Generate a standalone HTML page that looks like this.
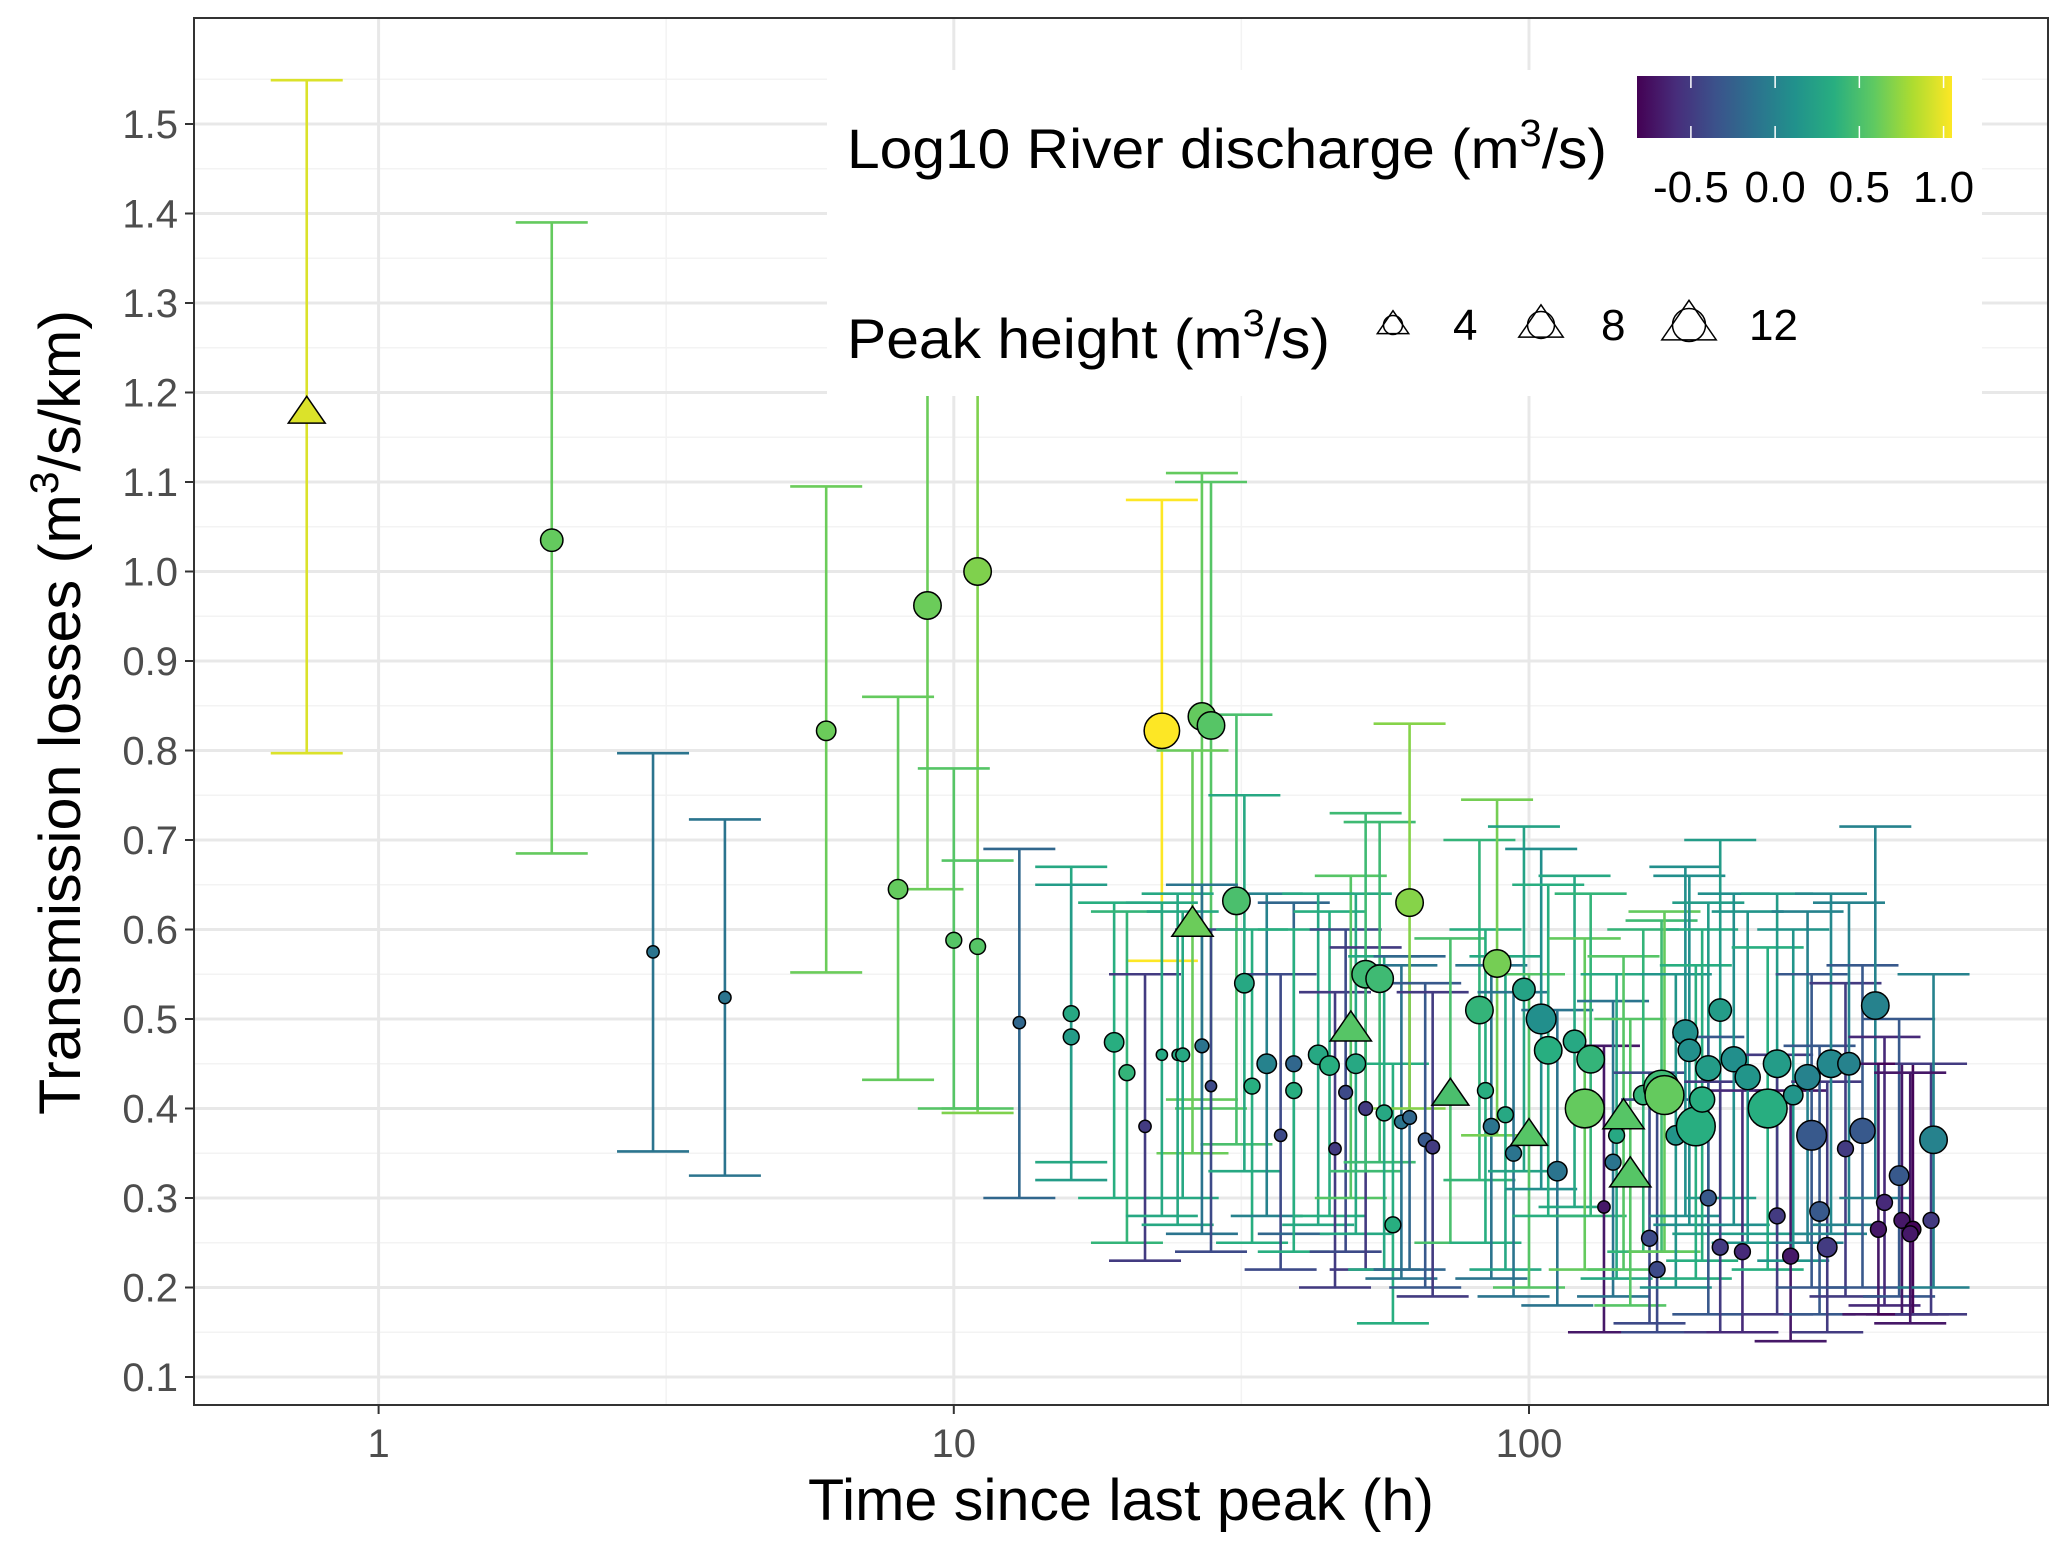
<!DOCTYPE html>
<html><head><meta charset="utf-8"><style>
html,body{margin:0;padding:0;background:#fff;}
svg{display:block;font-family:"Liberation Sans",sans-serif;}
</style></head><body>
<svg id="chart" width="2067" height="1550" viewBox="0 0 2067 1550" xmlns="http://www.w3.org/2000/svg">
<defs>
<linearGradient id="vir" x1="0" x2="1" y1="0" y2="0">
<stop offset="0" stop-color="#440154"/><stop offset="0.125" stop-color="#472d7b"/><stop offset="0.25" stop-color="#3b528b"/><stop offset="0.375" stop-color="#2c728e"/><stop offset="0.5" stop-color="#21918c"/><stop offset="0.625" stop-color="#28ae80"/><stop offset="0.75" stop-color="#5ec962"/><stop offset="0.875" stop-color="#addc30"/><stop offset="1" stop-color="#fde725"/>
</linearGradient>
<clipPath id="pc"><rect x="194" y="18" width="1854" height="1387"/></clipPath>
</defs>
<g id="grid" clip-path="url(#pc)"></g>
<g id="bars" clip-path="url(#pc)"></g>
<g id="pts" clip-path="url(#pc)"></g>
<rect x="194" y="18" width="1854" height="1387" fill="none" stroke="#333" stroke-width="2"/>
<g id="axes"></g>
<text x="808" y="1520" font-size="58" textLength="626" lengthAdjust="spacingAndGlyphs" fill="#000">Time since last peak (h)</text>
<text transform="translate(80,1115) rotate(-90)" font-size="58" textLength="805" lengthAdjust="spacingAndGlyphs" fill="#000">Transmission losses (m<tspan dy="-22" font-size="40">3</tspan><tspan dy="22">/s/km)</tspan></text>
<g id="legend">
<rect x="827" y="70" width="1155" height="326" fill="#fff"/>
<text x="847" y="168" font-size="56" textLength="760" lengthAdjust="spacingAndGlyphs" fill="#000">Log10 River discharge (m<tspan dy="-22" font-size="38">3</tspan><tspan dy="22">/s)</tspan></text>
<rect x="1637" y="76" width="315" height="62" fill="url(#vir)"/>
<g id="cbticks"></g>
<text x="847" y="358" font-size="56" textLength="483" lengthAdjust="spacingAndGlyphs" fill="#000">Peak height (m<tspan dy="-22" font-size="38">3</tspan><tspan dy="22">/s)</tspan></text>
<g id="sizeleg"></g>
</g>
</svg>
<script>
const times=[0.75,2.0,3.0,4.0,6.0,8.0,9.0,11.0,10.0,11.0,23,27,28,26,31,13,16,16,19,20,21.5,23,24.5,25,27,28,32,33,35,37,39,39,43,45,46,48,49,50,52,52,55,56,58,60,62,62,66,68,73,82,84,86,88,91,94,98,100,105,108,112,120,125,128,135,140,142,146,150,158,162,167,170,172,180,187,190,195,200,205,215,205,215,227,235,240,260,270,270,285,288,305,310,320,330,335,355,360,380,400,405,415,440,445,465,500,505,460];
const vals=[1.177,1.035,0.575,0.524,0.822,0.645,0.962,1.0,0.588,0.581,0.822,0.838,0.828,0.605,0.632,0.496,0.506,0.48,0.474,0.44,0.38,0.46,0.46,0.46,0.47,0.425,0.54,0.425,0.45,0.37,0.45,0.42,0.46,0.448,0.355,0.418,0.488,0.45,0.40,0.55,0.545,0.395,0.27,0.385,0.39,0.63,0.365,0.357,0.415,0.51,0.42,0.38,0.562,0.393,0.35,0.533,0.37,0.50,0.465,0.33,0.475,0.40,0.455,0.29,0.34,0.37,0.39,0.325,0.415,0.255,0.22,0.423,0.415,0.37,0.485,0.465,0.38,0.41,0.445,0.51,0.30,0.245,0.455,0.24,0.435,0.40,0.45,0.28,0.235,0.415,0.435,0.37,0.285,0.245,0.45,0.355,0.45,0.375,0.515,0.265,0.295,0.325,0.275,0.265,0.275,0.365,0.26];
const los=[0.797,0.685,0.352,0.325,0.552,0.432,0.645,0.395,0.40,0.40,0.565,0.41,0.40,0.35,0.36,0.30,0.34,0.32,0.30,0.25,0.23,0.28,0.27,0.30,0.26,0.24,0.33,0.25,0.28,0.22,0.26,0.24,0.27,0.28,0.20,0.24,0.30,0.26,0.22,0.33,0.34,0.22,0.16,0.21,0.22,0.40,0.20,0.19,0.25,0.32,0.25,0.21,0.37,0.22,0.19,0.33,0.20,0.31,0.28,0.18,0.29,0.22,0.28,0.15,0.19,0.21,0.22,0.18,0.24,0.16,0.15,0.24,0.24,0.20,0.28,0.27,0.21,0.23,0.26,0.30,0.17,0.15,0.27,0.15,0.25,0.22,0.26,0.17,0.14,0.23,0.25,0.20,0.17,0.15,0.26,0.19,0.27,0.20,0.30,0.17,0.18,0.19,0.17,0.17,0.17,0.20,0.16];
const his=[1.549,1.39,0.797,0.723,1.095,0.86,1.25,1.25,0.78,0.677,1.08,1.11,1.10,0.80,0.84,0.69,0.67,0.65,0.63,0.62,0.55,0.63,0.64,0.62,0.65,0.60,0.75,0.60,0.64,0.55,0.63,0.60,0.64,0.62,0.53,0.60,0.66,0.64,0.58,0.73,0.72,0.57,0.45,0.56,0.57,0.83,0.54,0.53,0.59,0.70,0.60,0.56,0.745,0.57,0.53,0.715,0.55,0.69,0.65,0.51,0.66,0.59,0.64,0.47,0.52,0.55,0.57,0.50,0.60,0.44,0.41,0.61,0.62,0.55,0.67,0.66,0.56,0.60,0.63,0.70,0.48,0.43,0.64,0.42,0.62,0.58,0.64,0.46,0.42,0.60,0.62,0.55,0.47,0.43,0.64,0.54,0.63,0.56,0.715,0.45,0.48,0.50,0.45,0.45,0.45,0.55,0.44];
const cols=[0.95,0.6,-0.1,-0.1,0.62,0.6,0.62,0.68,0.55,0.55,1.05,0.6,0.55,0.62,0.5,-0.2,0.3,0.2,0.35,0.4,-0.5,0.3,0.3,0.3,-0.1,-0.4,0.3,0.35,0.0,-0.4,-0.2,0.35,0.3,0.35,-0.5,-0.4,0.55,0.3,-0.5,0.45,0.45,0.3,0.35,-0.1,-0.2,0.7,-0.3,-0.5,0.5,0.4,0.35,-0.1,0.65,0.3,-0.1,0.25,0.55,0.1,0.35,-0.1,0.3,0.6,0.4,-0.7,-0.1,0.3,0.55,0.55,0.4,-0.4,-0.4,0.45,0.6,0.15,0.1,0.1,0.35,0.35,0.2,0.2,-0.3,-0.5,0.1,-0.6,0.15,0.35,0.2,-0.5,-0.7,0.15,0.0,-0.3,-0.3,-0.5,0.05,-0.5,0.0,-0.3,0.0,-0.7,-0.6,-0.3,-0.7,-0.8,-0.5,0.0,-0.7];
const peaks=[4,4,1.2,1.2,3,3,6,6,2,2,10,6,6,5,6,1.2,2,2,3,2,1.2,1,1,1.5,1.5,1,3,2,3,1.2,2,2,3,3,1.2,1.5,5,3,1.5,6,6,2,2,1.5,1.5,6,1.5,1.5,4,6,2,2,6,2,2,4,4,7,6,3,4,12,6,1.2,2,2,5,5,3,2,2,10,12,3,5,4,12,5,5,4,2,2,5,2,5,12,6,2,2,3,5,7,3,3,6,2,4,5,6,2,2,3,2,2,2,6,2];
const shapes=["tri","circ","circ","circ","circ","circ","circ","circ","circ","circ","circ","circ","circ","tri","circ","circ","circ","circ","circ","circ","circ","circ","circ","circ","circ","circ","circ","circ","circ","circ","circ","circ","circ","circ","circ","circ","tri","circ","circ","circ","circ","circ","circ","circ","circ","circ","circ","circ","tri","circ","circ","circ","circ","circ","circ","circ","tri","circ","circ","circ","circ","circ","circ","circ","circ","circ","tri","tri","circ","circ","circ","circ","circ","circ","circ","circ","circ","circ","circ","circ","circ","circ","circ","circ","circ","circ","circ","circ","circ","circ","circ","circ","circ","circ","circ","circ","circ","circ","circ","circ","circ","circ","circ","circ","circ","circ","circ"];
const yTicks=[0.1,0.2,0.3,0.4,0.5,0.6,0.7,0.8,0.9,1.0,1.1,1.2,1.3,1.4,1.5];
const xTicks=[1,10,100];
const cbTicks=[-0.5,0.0,0.5,1.0];
const sizeLegend=[4,8,12];

const NS="http://www.w3.org/2000/svg";
const L=194,R=2048,T=18,B=1405;
function xs(t){return 378.6+575.2*Math.log10(t);}
function ys(v){return 1377-(v-0.1)*895;}
function rs(p){return 5.6*Math.sqrt(p);}
const vir=["#440154","#472d7b","#3b528b","#2c728e","#21918c","#28ae80","#5ec962","#addc30","#fde725"];
function hex(h){return [1,3,5].map(i=>parseInt(h.substr(i,2),16));}
function colorOf(c){let u=(c+0.82)/1.87;u=Math.max(0,Math.min(1,u))*8;const i=Math.min(7,Math.floor(u)),f=u-i;const a=hex(vir[i]),b=hex(vir[i+1]);return "rgb("+a.map((v,k)=>Math.round(v+(b[k]-v)*f)).join(",")+")";}
function mk(tag,attrs,parent){const e=document.createElementNS(NS,tag);for(const k in attrs)e.setAttribute(k,attrs[k]);parent.appendChild(e);return e;}
const grid=document.getElementById('grid'),axes=document.getElementById('axes');
for(let i=0;i<yTicks.length;i++){const v=yTicks[i]+0.05;if(v<1.58){const l=mk('line',{x1:L,x2:R,y1:ys(v),y2:ys(v),stroke:'#f3f3f3','stroke-width':1.5},grid);}}
[0.5,1.5,2.5].forEach(e=>{const x=378.6+575.2*(e-1);const l=mk('line',{x1:x,x2:x,y1:T,y2:B,stroke:'#f3f3f3','stroke-width':1.5},grid);});
yTicks.forEach(v=>{const y=ys(v);const l=mk('line',{x1:L,x2:R,y1:y,y2:y,stroke:'#e8e8e8','stroke-width':3},grid);
 const t=mk('line',{x1:L-9,x2:L,y1:y,y2:y,stroke:'#333','stroke-width':2},axes);
 const tx=mk('text',{x:L-16,y:y+14,'font-size':40,'text-anchor':'end',fill:'#4d4d4d'},axes);tx.textContent=v.toFixed(1);});
xTicks.forEach(v=>{const x=xs(v);const l=mk('line',{x1:x,x2:x,y1:T,y2:B,stroke:'#e8e8e8','stroke-width':3},grid);
 const t=mk('line',{x1:x,x2:x,y1:B,y2:B+9,stroke:'#333','stroke-width':2},axes);
 const tx=mk('text',{x:x,y:B+52,'font-size':40,'text-anchor':'middle',fill:'#4d4d4d'},axes);tx.textContent=String(v);});
const bars=document.getElementById('bars'),pts=document.getElementById('pts');
const order=times.map((t,i)=>i);
order.forEach(i=>{const x=xs(times[i]),c=colorOf(cols[i]);const hi=his[i];
 const g=mk('g',{stroke:c,'stroke-width':2.6,fill:'none'},bars);
 mk('line',{x1:x,x2:x,y1:ys(los[i]),y2:ys(hi)},g);
 mk('line',{x1:x-36,x2:x+36,y1:ys(los[i]),y2:ys(los[i])},g);
 mk('line',{x1:x-36,x2:x+36,y1:ys(hi),y2:ys(hi)},g);});
order.forEach(i=>{const x=xs(times[i]),y=ys(vals[i]),c=colorOf(cols[i]),r=rs(peaks[i]);let e;
 if(shapes[i]==='tri'){const s=r*1.5;e=mk('polygon',{points:`${x},${y-s} ${x-s*1.1},${y+s*0.6} ${x+s*1.1},${y+s*0.6}`,fill:c,stroke:'#000','stroke-width':1.5},pts);}
 else{e=mk('circle',{cx:x,cy:y,r:r,fill:c,stroke:'#000','stroke-width':1.5},pts);}
 });
const cb=document.getElementById('cbticks');
cbTicks.forEach(v=>{const x=1637+(v+0.82)/1.87*315;
 const a=mk('line',{x1:x,x2:x,y1:76,y2:88,stroke:'#fff','stroke-width':1.5},cb);
 const b=mk('line',{x1:x,x2:x,y1:126,y2:138,stroke:'#fff','stroke-width':1.5},cb);
 const t=mk('text',{x:x,y:202,'font-size':44,'text-anchor':'middle',fill:'#000'},cb);t.textContent=v.toFixed(1);});
const sl=document.getElementById('sizeleg');
sizeLegend.forEach((p,k)=>{const x=1393+k*148,y=325,r=rs(p)*0.85;const s=r*1.5;
 const g=mk('g',{fill:'none',stroke:'#000','stroke-width':1.5},sl);
 mk('circle',{cx:x,cy:y,r:r},g);
 mk('polygon',{points:`${x},${y-s} ${x-s*1.1},${y+s*0.6} ${x+s*1.1},${y+s*0.6}`},g);
 const t=mk('text',{x:x+60,y:y+15,'font-size':44,fill:'#000'},sl);t.textContent=String(p);});
</script>
</body></html>
